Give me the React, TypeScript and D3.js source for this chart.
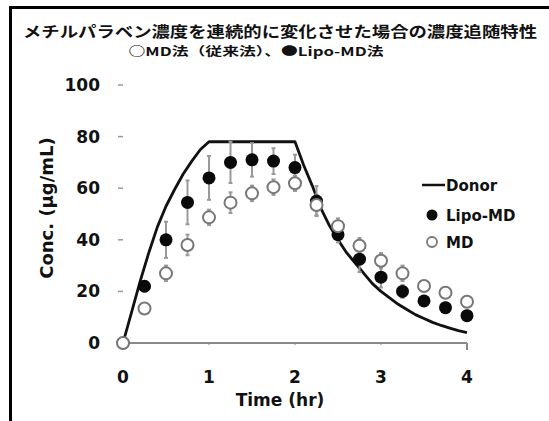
import React from 'react';
import * as d3 from 'd3';

// time points (hr) for the sampled series
const times = [0, 0.25, 0.5, 0.75, 1, 1.25, 1.5, 1.75, 2, 2.25, 2.5, 2.75, 3, 3.25, 3.5, 3.75, 4];
const lipoMean = [0, 22, 40, 54.5, 64, 70, 71, 70.5, 68, 55, 42, 32.5, 25.5, 20, 16.3, 13.7, 10.6];
const lipoSD = [0, 2, 7, 8.5, 8.5, 8, 6.5, 5, 5, 5.8, 3, 5, 4, 2.5, 2, 2, 2];
const mdMean = [0, 13.4, 27, 38, 48.7, 54.4, 58, 60.4, 61.9, 53.5, 45.3, 37.7, 31.9, 27, 22.1, 19.5, 16];
const mdSD = [0, 2, 3, 4, 3, 4, 3, 3, 3, 4, 3, 3, 3, 3, 2, 2, 2];

// donor concentration profile
const donorTime = [0, 0.1, 0.2, 0.3, 0.4, 0.5, 0.6, 0.7, 0.8, 0.9, 1.0, 1.5, 2.0, 2.1, 2.2, 2.3, 2.4, 2.5, 2.6, 2.7, 2.8, 2.9, 3.0, 3.1, 3.2, 3.3, 3.4, 3.5, 3.6, 3.7, 3.8, 3.9, 4.0];
const donorConc = [0, 12, 24, 35, 45, 53, 59.5, 65.5, 70.5, 75, 78, 78, 78, 69, 61, 52.3, 45.5, 40, 35, 31, 27, 23, 20, 17.5, 15, 13, 11, 9.5, 8, 6.8, 5.8, 4.8, 4];

const xTicks = [0, 1, 2, 3, 4];
const yTicks = [0, 20, 40, 60, 80, 100];

const titleLine1 = 'メチルパラベン濃度を連続的に変化させた場合の濃度追随特性';
const titleLine2 = '○MD法（従来法）、●Lipo-MD法';

const W = 549;
const H = 421;
const NUM_FONT = '"DejaVu Sans", sans-serif';
const JP_FONT = '"Noto Sans CJK JP", sans-serif';

export default function App() {
  const x = d3.scaleLinear().domain([0, 4]).range([123, 467]);
  const y = d3.scaleLinear().domain([0, 100]).range([343, 85]);

  const donorLine = d3
    .line<number>()
    .x((_, i) => x(donorTime[i]))
    .y((d) => y(d))(donorConc);

  const errBar = (t: number, m: number, sd: number, key: string) => {
    if (!sd) return null;
    const cx = x(t);
    return (
      <g key={key} stroke="#9a9a9a" strokeWidth={2}>
        <line x1={cx} x2={cx} y1={y(m - sd)} y2={y(m + sd)} />
        <line x1={cx - 2} x2={cx + 2} y1={y(m - sd)} y2={y(m - sd)} />
        <line x1={cx - 2} x2={cx + 2} y1={y(m + sd)} y2={y(m + sd)} />
      </g>
    );
  };

  return (
    <svg
      width={W}
      height={H}
      style={{ position: 'absolute', left: 0, top: 0, background: '#fff' }}
    >
      {/* frame */}
      <line x1={10.5} x2={10.5} y1={6} y2={H} stroke="#000" strokeWidth={3} />
      <line x1={9} x2={W} y1={7.5} y2={7.5} stroke="#000" strokeWidth={3} />

      {/* title */}
      <text
        x={280}
        y={37}
        textAnchor="middle"
        fontFamily={JP_FONT}
        fontWeight="bold"
        fontSize={15}
        textLength={514}
        lengthAdjust="spacingAndGlyphs"
        fill="#111"
      >
        {titleLine1}
      </text>
      <text
        x={256}
        y={56}
        textAnchor="middle"
        fontFamily={JP_FONT}
        fontWeight="bold"
        fontSize={12}
        textLength={255}
        lengthAdjust="spacingAndGlyphs"
        fill="#111"
      >
        {titleLine2}
      </text>

      {/* y ticks */}
      {yTicks.map((t) => (
        <g key={'y' + t}>
          {t > 0 && (
            <line x1={118} x2={123} y1={y(t)} y2={y(t)} stroke="#999" strokeWidth={1.5} />
          )}
          <text
            x={100}
            y={y(t) + 6}
            textAnchor="end"
            fontFamily={NUM_FONT}
            fontWeight="bold"
            fontSize={17}
            fill="#111"
          >
            {t}
          </text>
        </g>
      ))}

      {/* x axis */}
      <line x1={x(0)} x2={x(4)} y1={y(0)} y2={y(0)} stroke="#8a8a8a" strokeWidth={2} />
      {xTicks.map((t) => (
        <g key={'x' + t}>
          <line
            x1={x(t)}
            x2={x(t)}
            y1={y(0)}
            y2={y(0) + (t === 4 ? 7 : 1.5)}
            stroke="#8a8a8a"
            strokeWidth={2}
          />
          <text
            x={x(t)}
            y={383}
            textAnchor="middle"
            fontFamily={NUM_FONT}
            fontWeight="bold"
            fontSize={17}
            fill="#111"
          >
            {t}
          </text>
        </g>
      ))}
      <text
        x={280}
        y={406}
        textAnchor="middle"
        fontFamily={NUM_FONT}
        fontWeight="bold"
        fontSize={17}
        fill="#111"
      >
        Time (hr)
      </text>
      <text
        transform="translate(53,208) rotate(-90)"
        textAnchor="middle"
        fontFamily={NUM_FONT}
        fontWeight="bold"
        fontSize={18}
        fill="#111"
      >
        Conc. (μg/mL)
      </text>

      {/* donor line */}
      <path d={donorLine || ''} fill="none" stroke="#111" strokeWidth={2.8} strokeLinejoin="round" />

      {/* error bars */}
      {times.map((t, i) => errBar(t, lipoMean[i], lipoSD[i], 'le' + i))}
      {times.map((t, i) => errBar(t, mdMean[i], mdSD[i], 'me' + i))}

      {/* Lipo-MD markers */}
      {times.map((t, i) => (
        <circle key={'l' + i} cx={x(t)} cy={y(lipoMean[i])} r={6.5} fill="#0a0a0a" />
      ))}
      {/* MD markers */}
      {times.map((t, i) => (
        <circle
          key={'m' + i}
          cx={x(t)}
          cy={y(mdMean[i])}
          r={6}
          fill="#fff"
          stroke="#777"
          strokeWidth={2}
        />
      ))}

      {/* legend */}
      <line x1={422} x2={445} y1={185} y2={185} stroke="#111" strokeWidth={2.5} />
      <text x={446} y={191} fontFamily={NUM_FONT} fontWeight="bold" fontSize={15} fill="#111">
        Donor
      </text>
      <circle cx={432} cy={215} r={5.5} fill="#0a0a0a" />
      <text x={446} y={221} fontFamily={NUM_FONT} fontWeight="bold" fontSize={15} fill="#111">
        Lipo-MD
      </text>
      <circle cx={432} cy={242} r={5} fill="#fff" stroke="#777" strokeWidth={1.8} />
      <text x={446} y={248} fontFamily={NUM_FONT} fontWeight="bold" fontSize={15} fill="#111">
        MD
      </text>
    </svg>
  );
}
